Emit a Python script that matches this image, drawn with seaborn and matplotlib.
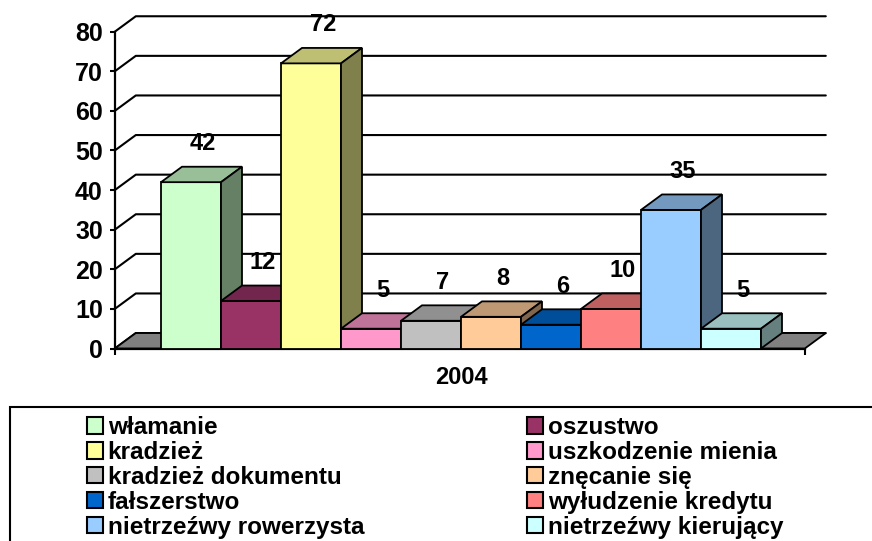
import matplotlib.pyplot as plt
import matplotlib.patches as mpatches
import seaborn as sns
import pandas as pd
import numpy as np

categories = ['włamanie', 'oszustwo', 'kradzież', 'uszkodzenie mienia',
              'kradzież dokumentu', 'znęcanie się', 'fałszerstwo',
              'wyłudzenie kredytu', 'nietrzeźwy rowerzysta', 'nietrzeźwy kierujący']
counts = [42, 12, 72, 5, 7, 8, 6, 10, 35, 5]
colors = ['#CCFFCC', '#993366', '#FFFF99', '#FF99CC', '#C0C0C0',
          '#FFCC99', '#0066CC', '#FF8080', '#99CCFF', '#CCFFFF']
year = '2004'
yticks = list(range(0, 90, 10))

# fake 3d: offset of the back wall in data units
dx, dy = 0.35, 3.9
x_left, x_right = -1.27, 10.23

sns.set_style('white')
plt.rcParams['font.family'] = ['Liberation Sans', 'DejaVu Sans']
plt.rcParams['font.weight'] = 'bold'
plt.rcParams['text.color'] = 'black'
plt.rcParams['xtick.color'] = 'black'
plt.rcParams['ytick.color'] = 'black'

fig = plt.figure(figsize=(8.72, 5.41), dpi=100)
ax = fig.add_axes([0, 0, 1, 1])

df = pd.DataFrame({'kat': categories, 'n': counts})
sns.barplot(data=df, x='kat', y='n', hue='kat', palette=dict(zip(categories, colors)),
            saturation=1, width=1.0, edgecolor='black', linewidth=1.3, errorbar=None,
            legend=False, ax=ax)
bars = sorted([p for p in ax.patches if isinstance(p, mpatches.Rectangle)], key=lambda p: p.get_x())

ax.set_xlim(-191 / 60, 681 / 60)
ax.set_ylim(-192.5 / 3.96, 348.5 / 3.96)

# back wall gridlines + left wall diagonals
for v in yticks:
    ax.plot([x_left, x_left + dx, x_right + dx], [v, v + dy, v + dy],
            color='black', lw=1.5, zorder=1)

# floor
floor = mpatches.Polygon([(x_left, 0), (x_left + dx, dy), (x_right + dx, dy), (x_right, 0)],
                         closed=True, fc='#808080', ec='black', lw=1.3, zorder=2)
ax.add_patch(floor)

# top and side faces of each bar
for i, p in enumerate(bars):
    x0, w, h = p.get_x(), p.get_width(), p.get_height()
    fc = np.array(p.get_facecolor()[:3])
    p.set_zorder(3 + i)
    top = mpatches.Polygon([(x0, h), (x0 + dx, h + dy), (x0 + w + dx, h + dy), (x0 + w, h)],
                           closed=True, fc=fc * 0.75, ec='black', lw=1.3, zorder=3 + i)
    side = mpatches.Polygon([(x0 + w, 0), (x0 + w, h), (x0 + w + dx, h + dy), (x0 + w + dx, dy)],
                            closed=True, fc=fc * 0.5, ec='black', lw=1.3, zorder=3 + i)
    ax.add_patch(top)
    ax.add_patch(side)
    ax.text(x0 + w / 2 + 0.2, h + 9.7, f'{h:.0f}', ha='center', va='center',
            fontsize=17, zorder=20)

for s in ['top', 'right']:
    ax.spines[s].set_visible(False)
ax.spines['left'].set_position(('data', x_left))
ax.spines['left'].set_bounds(0, 80)
ax.spines['bottom'].set_position(('data', 0))
ax.spines['bottom'].set_bounds(x_left, x_right)
for s in ['left', 'bottom']:
    ax.spines[s].set_linewidth(1.6)
    ax.spines[s].set_color('black')

ax.set_yticks(yticks)
ax.set_xticks([x_left, x_right])
ax.set_xticklabels(['', ''])
ax.tick_params(axis='y', direction='out', length=3.6, width=1.5, labelsize=18, pad=5,
               left=True, color='black')
ax.tick_params(axis='x', direction='out', length=4.5, width=1.5, bottom=True, color='black')
ax.set_xlabel('')
ax.set_ylabel('')

ax.text(4.5, -7.2, year, ha='center', va='center', fontsize=17)

# legend
handles = [mpatches.Patch(facecolor=c, edgecolor='black', lw=1.5, label=k)
           for k, c in zip(categories, colors)]
order = [0, 2, 4, 6, 8, 1, 3, 5, 7, 9]
fig.legend([handles[j] for j in order], [categories[j] for j in order], ncol=2,
           loc='upper left', bbox_to_anchor=(87 / 872, 1 - 416 / 541), frameon=False,
           fontsize=17.5, handlelength=0.65, handleheight=0.65, handletextpad=0.2,
           labelspacing=0.08, columnspacing=6.7, borderpad=0, borderaxespad=0)
fig.add_artist(mpatches.Rectangle((10 / 872, -0.1), 1.2, 0.1 + 1 - 407 / 541,
                                  transform=fig.transFigure, fill=False, ec='black', lw=1.5))

plt.savefig('out.png', dpi=100)
